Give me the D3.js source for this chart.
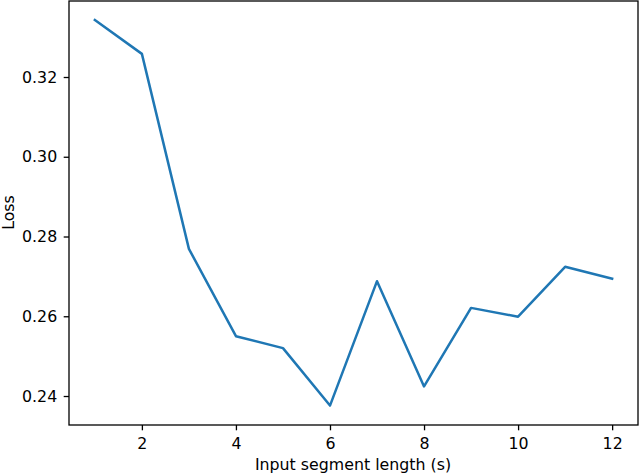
<!DOCTYPE html>
<html>
<head>
<meta charset="utf-8">
<script src="https://cdn.jsdelivr.net/npm/d3@7"></script>
<style>
  html, body { margin: 0; padding: 0; background: #fff; }
  svg { display: block; }
  text { font-family: "DejaVu Sans", sans-serif; fill: #000; }
</style>
</head>
<body>
<svg id="chart" width="640" height="475"></svg>
<script>
const segmentLengths = [1, 2, 3, 4, 5, 6, 7, 8, 9, 10, 11, 12];
const lossValues = [0.3343, 0.3258, 0.2769, 0.2550, 0.2520, 0.2376, 0.2688, 0.2424, 0.2621, 0.2599, 0.2724, 0.2694];
const xTicks = [2, 4, 6, 8, 10, 12];
const yTicks = [0.24, 0.26, 0.28, 0.30, 0.32];
const xLabel = "Input segment length (s)";
const yLabel = "Loss";

const W = 640, H = 475;
const m = { left: 69, right: 2, top: 1, bottom: 50 };
const svg = d3.select("#chart");

const x = d3.scaleLinear().domain([0.45, 12.55]).range([m.left, W - m.right]);
const y = d3.scaleLinear().domain([0.23273, 0.33906]).range([H - m.bottom, m.top]);

const fs = "15.8px";

// line
svg.append("path")
  .datum(segmentLengths.map((d, i) => [d, lossValues[i]]))
  .attr("fill", "none")
  .attr("stroke", "#1f77b4")
  .attr("stroke-width", 2.5)
  .attr("stroke-linejoin", "round")
  .attr("stroke-linecap", "square")
  .attr("d", d3.line().x(d => x(d[0])).y(d => y(d[1])));

// axes
const xAxis = svg.append("g")
  .attr("transform", `translate(0,${H - m.bottom})`)
  .call(d3.axisBottom(x).tickValues(xTicks).tickFormat(d3.format("d")).tickSize(5.3).tickPadding(7));
const yAxis = svg.append("g")
  .attr("transform", `translate(${m.left},0)`)
  .call(d3.axisLeft(y).tickValues(yTicks).tickFormat(d3.format(".2f")).tickSize(5.3).tickPadding(6.5));

[xAxis, yAxis].forEach(g => {
  g.select(".domain").remove();
  g.selectAll(".tick line").attr("stroke", "#000").attr("stroke-width", 1.3);
  g.selectAll(".tick text").attr("font-size", fs).attr("font-family", "DejaVu Sans, sans-serif");
});

// frame
svg.append("rect")
  .attr("x", m.left).attr("y", m.top)
  .attr("width", W - m.right - m.left).attr("height", H - m.bottom - m.top)
  .attr("fill", "none").attr("stroke", "#000").attr("stroke-width", 1.3);

// labels
svg.append("text")
  .attr("x", 353).attr("y", 469.5)
  .attr("text-anchor", "middle").attr("font-size", fs)
  .text(xLabel);
svg.append("text")
  .attr("transform", `translate(13.5,212.5) rotate(-90)`)
  .attr("text-anchor", "middle").attr("font-size", fs)
  .text(yLabel);
</script>
</body>
</html>
